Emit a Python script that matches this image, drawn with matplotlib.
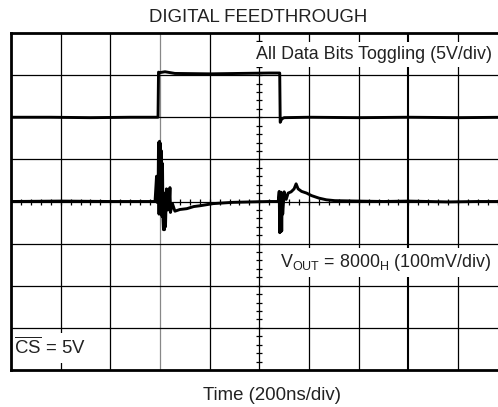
import matplotlib
matplotlib.use('Agg')
import matplotlib.pyplot as plt
import numpy as np

plt.rcParams['font.family'] = ['Liberation Sans', 'DejaVu Sans']
plt.rcParams['mathtext.fontset'] = 'custom'
plt.rcParams['mathtext.rm'] = 'Liberation Sans'

# scope traces in divisions (x: 0..10 div, y: -4..4 div)
digital_t = [0.0, 0.8, 1.6, 2.4, 2.96, 2.97, 3.0, 3.1, 3.3, 4.0, 4.6, 5.2, 5.41, 5.42, 5.45, 5.5, 6.0, 7.0, 8.0, 9.0, 10.0]
digital_v = [2.0, 2.0, 1.99, 2.0, 2.0, 3.07, 3.06, 3.08, 3.04, 3.03, 3.04, 3.05, 3.05, 1.88, 1.96, 1.99, 2.0, 1.99, 2.0, 1.99, 2.0]

vout_t = [0.0, 1.0, 2.0, 2.9, 2.93, 2.94, 2.95, 2.96, 2.97, 2.98, 2.99, 3.0, 3.01, 3.02, 3.03, 3.04, 3.05, 3.06,
          3.07, 3.08, 3.09, 3.10, 3.11, 3.13, 3.15, 3.17, 3.18, 3.20, 3.21, 3.25, 3.3, 3.4, 3.54, 3.68, 3.81,
          4.07, 4.47, 4.81, 5.2, 5.38, 5.40, 5.41, 5.42, 5.43, 5.44, 5.45, 5.46, 5.47, 5.50, 5.54, 5.58,
          5.64, 5.70, 5.74, 5.78, 5.85, 5.95, 6.05, 6.20, 6.35, 6.52, 6.99, 7.5, 8.0,
          8.8, 9.4, 10.0]
vout_v = [0.0, 0.01, 0.0, 0.0, 0.6, -0.02, 0.58, 0.0, 1.4, -0.3, 1.43, -0.25, 1.38, -0.3, 1.2, -0.35, 0.9, -0.4,
          -0.67, 0.1, -0.67, 0.2, -0.6, 0.3, -0.2, 0.28, -0.2, 0.33, -0.26, -0.05, -0.23, -0.19, -0.17, -0.12, -0.1,
          -0.05, -0.02, -0.01, 0.0, 0.0, 0.24, -0.74, 0.2, -0.72, 0.22, -0.7, 0.15, -0.3, 0.23, 0.05, 0.2,
          0.23, 0.3, 0.42, 0.3, 0.24, 0.2, 0.14, 0.08, 0.04, 0.02, 0.01, 0.0, 0.01,
          -0.01, 0.0, 0.0]

fig = plt.figure(figsize=(4.98, 4.07), dpi=100)
ax = fig.add_axes([11 / 498, 37 / 407, 496.7 / 498, 337 / 407])
ax.set_xlim(0, 10)
ax.set_ylim(-4, 4)
ax.set_xticks([])
ax.set_yticks([])
for s in ax.spines.values():
    s.set_linewidth(2.0)
    s.set_zorder(6)

# graticule
for x in range(1, 10):
    c = '#888888' if x == 3 else 'black'
    lw = 1.5 if x == 8 else 0.9
    ax.axvline(x, color=c, lw=lw, zorder=1)
for y in range(-3, 4):
    ax.axhline(y, color='black', lw=0.9, zorder=1)

# minor ticks on the center axes
sub = np.arange(0, 10.01, 0.2)
ax.plot(sub, np.zeros_like(sub), ls='none', marker='|', ms=3.8, mew=0.9, color='black', zorder=1)
sub_y = np.arange(-4, 4.01, 0.2)
ax.plot(np.full_like(sub_y, 5.0), sub_y, ls='none', marker='_', ms=5, mew=0.9, color='black', zorder=1)

ax.plot(digital_t, digital_v, color='black', lw=2.1, zorder=3)
ax.plot(vout_t, vout_v, color='black', lw=2.1, zorder=3)

box = dict(facecolor='white', edgecolor='none', pad=3)
fs = 13.4
fs_note = 12.9
ax.text(4.93, 3.49, 'All Data Bits Toggling (5V/div)', fontsize=fs_note, color='#222222',
        ha='left', va='center', bbox=box, zorder=4)
ax.text(5.41, -1.45, r'V$_{\mathregular{OUT}}$ = 8000$_{\mathregular{H}}$ (100mV/div)', fontsize=fs_note,
        color='#222222', ha='left', va='center', bbox=box, zorder=4)
ax.text(0.06, -3.47, r'$\overline{\mathregular{CS}}$ = 5V', fontsize=fs, color='#222222',
        ha='left', va='center', bbox=box, zorder=4)

fig.text(258 / 498, 1 - 17 / 407, 'DIGITAL FEEDTHROUGH', fontsize=fs, color='#222222',
         ha='center', va='center')
fig.text(271.5 / 498, 1 - 395 / 407, 'Time (200ns/div)', fontsize=fs, color='#222222',
         ha='center', va='center')

fig.savefig('out.png', dpi=100, facecolor='white')
